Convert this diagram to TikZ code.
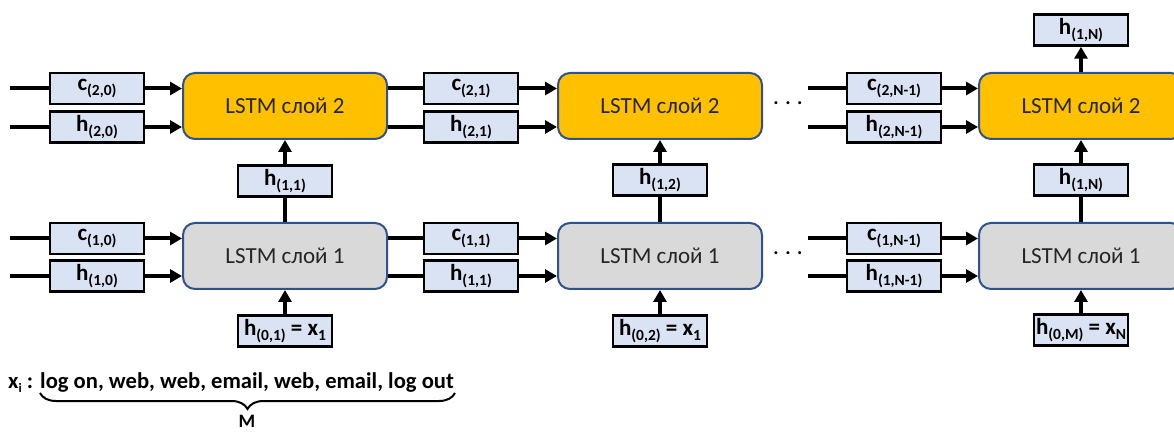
\documentclass[tikz,border=0pt]{standalone}
\usepackage{fontspec}
\setmainfont{Carlito}
\usetikzlibrary{arrows.meta,decorations.pathreplacing}
\definecolor{lbl}{HTML}{DAE3F3}
\definecolor{orng}{HTML}{FFC000}
\definecolor{gry}{HTML}{D9D9D9}
\definecolor{bdr}{HTML}{2F528F}
\newcommand{\lab}[2]{#1\raisebox{-5pt}{\fontsize{15.5}{16}\selectfont #2}}
\begin{document}
\begin{tikzpicture}[x=1pt,y=-1pt,
  lstmbox/.style={draw=bdr,line width=2pt,rounded corners=12pt,minimum width=204pt,minimum height=66pt,font=\fontsize{23}{27}\selectfont,text=black!85},
  lstmtwo/.style={lstmbox,fill=orng},
  lstmone/.style={lstmbox,fill=gry},
  lbox/.style={draw=black,line width=2.5pt,fill=lbl,minimum width=94pt,minimum height=31pt,inner sep=0pt,font=\fontsize{23}{25}\selectfont\bfseries},
  conn/.style={line width=4pt},
  arr/.style={line width=4pt,-{Triangle[length=12pt,width=13pt]}},
  dots/.style={inner sep=0pt,font=\fontsize{20}{20}\selectfont\bfseries},
  txt/.style={inner sep=0pt,anchor=base west,font=\fontsize{22.6}{24}\selectfont\bfseries}]
\clip (0,0) rectangle (1174,435);
% LSTM boxes
\node[lstmtwo] (L21) at (285,106) {LSTM слой 2};
\node[lstmtwo] (L22) at (660,106) {LSTM слой 2};
\node[lstmtwo] (L23) at (1081,106) {LSTM слой 2};
\node[lstmone] (L11) at (285,256) {LSTM слой 1};
\node[lstmone] (L12) at (660,256) {LSTM слой 1};
\node[lstmone] (L13) at (1081,256) {LSTM слой 1};
% label boxes
\node[lbox] (c20) at (97,88.5) {\lab{c}{(2,0)}};
\node[lbox] (h20) at (97,127) {\lab{h}{(2,0)}};
\node[lbox] (c21) at (471,88.5) {\lab{c}{(2,1)}};
\node[lbox] (h21) at (471,127) {\lab{h}{(2,1)}};
\node[lbox] (c2N) at (894,88.5) {\lab{c}{(2,N-1)}};
\node[lbox] (h2N) at (894,127) {\lab{h}{(2,N-1)}};
\node[lbox] (c10) at (97,238.5) {\lab{c}{(1,0)}};
\node[lbox] (h10) at (97,276) {\lab{h}{(1,0)}};
\node[lbox] (c11) at (471,238.5) {\lab{c}{(1,1)}};
\node[lbox] (h11) at (471,276) {\lab{h}{(1,1)}};
\node[lbox] (c1N) at (894,238.5) {\lab{c}{(1,N-1)}};
\node[lbox] (h1N) at (894,276) {\lab{h}{(1,N-1)}};
\node[lbox] (m11) at (285,181) {\lab{h}{(1,1)}};
\node[lbox] (m12) at (660,180) {\lab{h}{(1,2)}};
\node[lbox] (m1N) at (1081,180) {\lab{h}{(1,N)}};
\node[lbox] (x01) at (285,331) {\lab{h}{(0,1)} = \lab{x}{1}};
\node[lbox] (x02) at (660,331) {\lab{h}{(0,2)} = \lab{x}{1}};
\node[lbox] (x0M) at (1081,330) {\lab{h}{(0,M)} = \lab{x}{N}};
\node[lbox] (top) at (1081,30) {\lab{h}{(1,N)}};
% free ends
\coordinate (s1) at (10,88.5);
\coordinate (s2) at (10,127);
\coordinate (s3) at (10,238.5);
\coordinate (s4) at (10,276);
\coordinate (t1) at (808,88.5);
\coordinate (t2) at (808,127);
\coordinate (t3) at (808,238.5);
\coordinate (t4) at (808,276);
% column 1 inputs
\draw[conn] (s1) -- (c20.west);
\draw[arr] (c20.east) -- (c20.east -| L21.west);
\draw[conn] (s2) -- (h20.west);
\draw[arr] (h20.east) -- (h20.east -| L21.west);
\draw[conn] (s3) -- (c10.west);
\draw[arr] (c10.east) -- (c10.east -| L11.west);
\draw[conn] (s4) -- (h10.west);
\draw[arr] (h10.east) -- (h10.east -| L11.west);
% column 2 inputs
\draw[conn] (c21.west -| L21.east) -- (c21.west);
\draw[arr] (c21.east) -- (c21.east -| L22.west);
\draw[conn] (h21.west -| L21.east) -- (h21.west);
\draw[arr] (h21.east) -- (h21.east -| L22.west);
\draw[conn] (c11.west -| L11.east) -- (c11.west);
\draw[arr] (c11.east) -- (c11.east -| L12.west);
\draw[conn] (h11.west -| L11.east) -- (h11.west);
\draw[arr] (h11.east) -- (h11.east -| L12.west);
% column 3 inputs
\draw[conn] (t1) -- (c2N.west);
\draw[arr] (c2N.east) -- (c2N.east -| L23.west);
\draw[conn] (t2) -- (h2N.west);
\draw[arr] (h2N.east) -- (h2N.east -| L23.west);
\draw[conn] (t3) -- (c1N.west);
\draw[arr] (c1N.east) -- (c1N.east -| L13.west);
\draw[conn] (t4) -- (h1N.west);
\draw[arr] (h1N.east) -- (h1N.east -| L13.west);
% verticals
\draw[conn] (L11.north) -- (m11.south);
\draw[arr] (m11.north) -- (L21.south);
\draw[conn] (L12.north) -- (m12.south);
\draw[arr] (m12.north) -- (L22.south);
\draw[conn] (L13.north) -- (m1N.south);
\draw[arr] (m1N.north) -- (L23.south);
\draw[arr] (x01.north) -- (L11.south);
\draw[arr] (x02.north) -- (L12.south);
\draw[arr] (x0M.north) -- (L13.south);
\draw[arr] (L23.north) -- (top.south);
% dots
\node[dots] (d2) at (788,103) {.\hspace{6.5pt}.\hspace{6.5pt}.};
\node[dots] (d1) at (788,253) {.\hspace{6.5pt}.\hspace{6.5pt}.};
% bottom text
\node[txt] (xi) at (8,388) {x\raisebox{-4pt}{\fontsize{13}{13}\selectfont i} :};
\node[txt] (seq) at (40,388) {log on, web, web, email, web, email, log out};
\coordinate (b1) at (40,393);
\coordinate (b2) at (455,393);
\draw[line width=2pt,decorate,decoration={brace,mirror,amplitude=16pt,aspect=0.5}] (b1) -- (b2);
\node[inner sep=0pt,anchor=north,font=\fontsize{19}{21}\selectfont\bfseries] (M) at (247,415) {M};
\end{tikzpicture}
\end{document}
